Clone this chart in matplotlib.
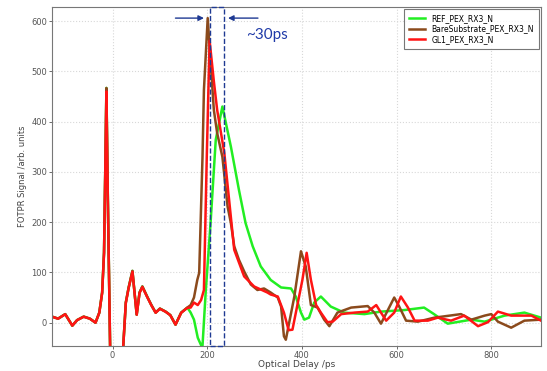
import numpy as np
import matplotlib.pyplot as plt
from matplotlib.patches import Rectangle

# shared early part of the traces (all three overlap here)
early_t = [-128, -115, -100, -85, -75, -61, -48, -36, -28, -22, -18, -15, -13, -10, -4, 18, 28, 34, 42, 51, 57, 63, 73, 82, 91, 100, 112, 122, 133, 145, 158]
early_v = [12, 8, 17, -6, 5, 12, 8, 0, 20, 60, 140, 330, 467, 250, -120, -120, 40, 70, 103, 16, 60, 72, 52, 35, 20, 28, 22, 15, -4, 20, 30]

ref_t = [165, 172, 180, 188, 190, 197, 207, 218, 232, 250, 267, 281, 296, 313, 334, 356, 377, 387, 398, 405, 415, 426, 440, 461, 489, 532, 567, 616, 658, 679, 708, 758, 786, 828, 870, 905]
ref_v = [20, 6, -30, -47, -46, 65, 198, 364, 430, 350, 264, 198, 152, 112, 85, 70, 68, 52, 20, 6, 10, 40, 52, 32, 20, 17, 22, 25, 30, 17, -2, 6, 2, 14, 20, 10]

bare_t = [165, 172, 179, 183, 190, 193, 201, 207, 214, 221, 232, 243, 250, 257, 267, 278, 292, 306, 320, 334, 349, 356, 362, 366, 384, 398, 408, 419, 433, 447, 458, 475, 504, 539, 553, 567, 595, 605, 620, 645, 680, 736, 758, 786, 800, 814, 842, 870, 905]
bare_v = [35, 50, 85, 99, 330, 463, 606, 520, 423, 377, 330, 231, 198, 152, 125, 102, 76, 65, 68, 60, 50, 32, -27, -34, 52, 142, 112, 35, 30, 6, -7, 20, 30, 33, 20, -2, 50, 33, 4, 2, 10, 17, 6, 14, 17, 2, -10, 4, 6]

gl_t = [165, 172, 180, 187, 193, 199, 205, 214, 221, 236, 257, 278, 299, 327, 334, 349, 362, 372, 380, 401, 410, 419, 430, 440, 454, 465, 483, 511, 539, 557, 567, 578, 595, 609, 624, 638, 666, 687, 715, 743, 772, 793, 814, 842, 885, 905]
gl_v = [30, 40, 35, 45, 65, 330, 561, 480, 423, 338, 145, 92, 72, 60, 56, 52, 20, -15, -14, 85, 139, 85, 35, 20, 1, 2, 17, 20, 22, 35, 20, 4, 20, 52, 30, 4, 4, 10, 4, 14, -7, 1, 22, 14, 14, 4]

labels = ["REF_PEX_RX3_N", "BareSubstrate_PEX_RX3_N", "GL1_PEX_RX3_N"]
colors = ["#22ee22", "#8b4a1c", "#ff1414"]

fig = plt.figure(figsize=(5.47, 3.71), dpi=100)
ax = fig.add_axes([0.095, 0.068, 0.894, 0.913])

ax.plot(early_t + ref_t, early_v + ref_v, color=colors[0], lw=1.8, label=labels[0])
ax.plot(early_t + bare_t, early_v + bare_v, color=colors[1], lw=1.8, label=labels[1])
ax.plot(early_t + gl_t, [v * 0.985 for v in early_v] + gl_v, color=colors[2], lw=1.8, label=labels[2])

ax.set_xlim(-128, 905)
ax.set_ylim(-46, 628)
ax.set_xticks([0, 200, 400, 600, 800])
ax.set_yticks([0, 100, 200, 300, 400, 500, 600])
ax.grid(True, color='#d8d8d8', ls=':', lw=0.8)
ax.tick_params(labelsize=6, colors='#555555', length=2, width=0.6, pad=1.5)
for s in ax.spines.values():
    s.set_color('#777777')
    s.set_linewidth(0.8)

ax.set_xlabel("Optical Delay /ps", fontsize=6.5, color='#444444', labelpad=0.5)
ax.set_ylabel("FOTPR Signal /arb. units", fontsize=6, color='#444444', labelpad=3)

leg = ax.legend(loc='upper right', fontsize=5.5, fancybox=False, edgecolor='#555555',
                handlelength=2.2, borderaxespad=0.3, labelspacing=0.2, borderpad=0.6)
leg.get_frame().set_linewidth(0.8)

# ~30ps annotation
navy = '#1f3a93'
ax.add_patch(Rectangle((205, -46), 30, 674, fill=False, ls='--', lw=1.0, edgecolor=navy, clip_on=False, zorder=5))
ax.annotate("", xy=(199, 606), xytext=(127, 606),
            arrowprops=dict(arrowstyle='-|>', color=navy, lw=1.0, mutation_scale=8))
ax.annotate("", xy=(238, 606), xytext=(313, 606),
            arrowprops=dict(arrowstyle='-|>', color=navy, lw=1.0, mutation_scale=8))
ax.text(281, 572, "~30ps", fontsize=11, color='#1f3aa8', family='Lato', va='center')

fig.savefig("out.png", dpi=100)
